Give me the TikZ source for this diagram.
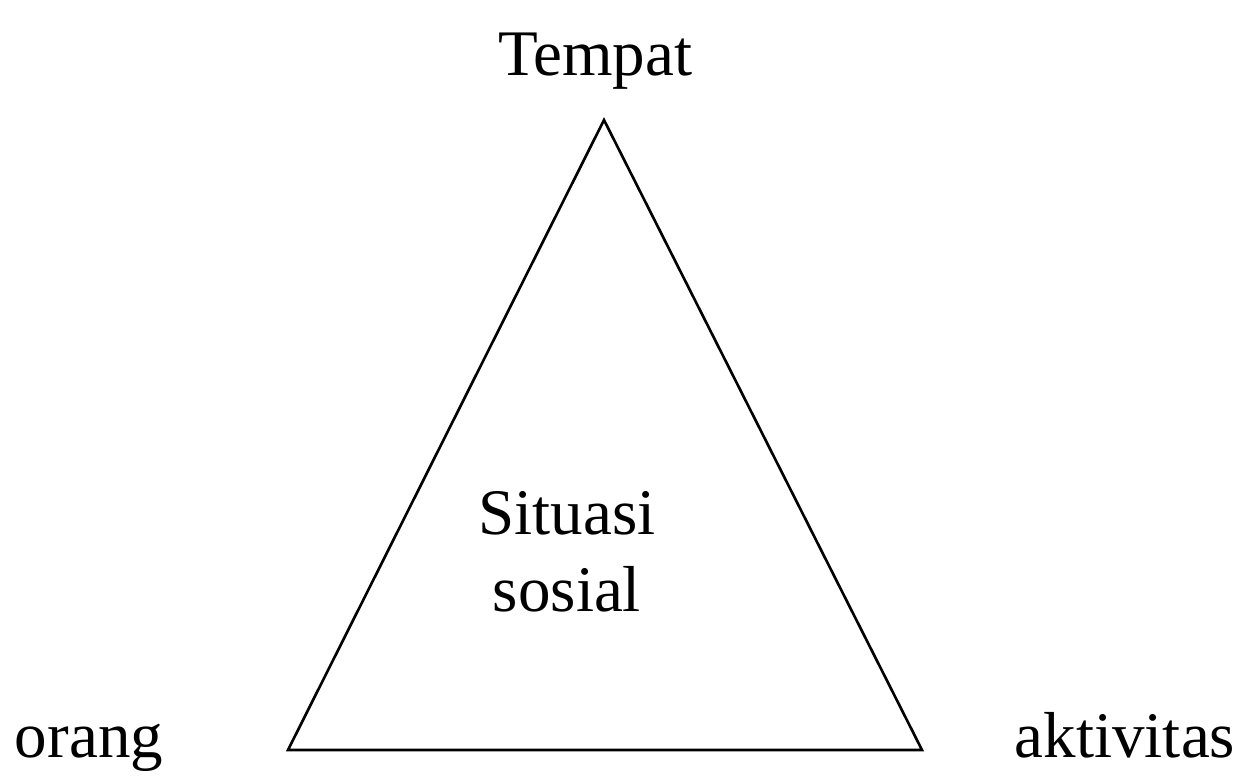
\documentclass[tikz,border=0pt]{standalone}
\usepackage{fontspec}
\setmainfont{Liberation Serif}
\usetikzlibrary{positioning}
\tikzset{label/.style={font=\fontsize{37}{44}\selectfont, inner sep=0pt, anchor=base}}

\begin{document}
\begin{tikzpicture}[x=0.02cm, y=-0.02cm]
            \useasboundingbox (0,0) rectangle (1245,783);
            % corners of the triangle
            \coordinate (top) at (604,120);
            \coordinate (left) at (288,750);
            \coordinate (right) at (922,750);
            \draw[line width=1.5pt, line join=miter] (top) -- (left) -- (right) -- cycle;

            % labels
            \node[label] (tempat) at (595,76) {Tempat};
            \node[label] (orang) at (89,758) {orang};
            \node[label] (aktivitas) at (1125,758) {aktivitas};
            \node[label, align=center] (situasi) at (567,612) {Situasi\\sosial};
        \end{tikzpicture}
\end{document}
